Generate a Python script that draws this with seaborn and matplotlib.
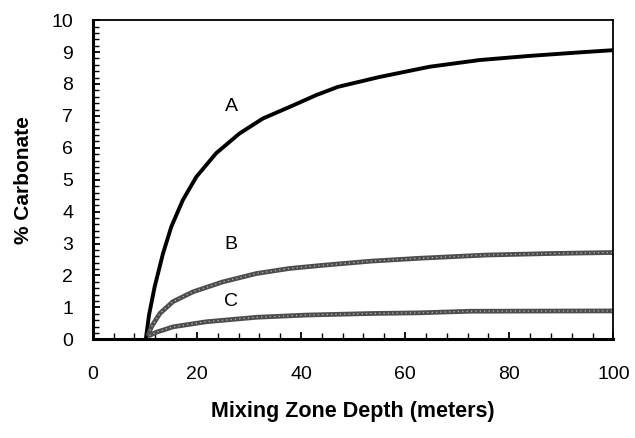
import matplotlib
matplotlib.use("Agg")
import matplotlib.pyplot as plt
from matplotlib.ticker import MultipleLocator
import seaborn as sns
import pandas as pd

# ---- data ----
a_x = [10.2, 10.8, 11.9, 13.5, 15.1, 17.3, 19.9, 23.7, 28.2, 32.7, 37.8, 42.9, 47.1, 55.1, 64.7, 74.3, 83.9, 93.5, 100]
a_y = [0.0, 0.75, 1.65, 2.69, 3.53, 4.36, 5.09, 5.83, 6.45, 6.92, 7.28, 7.65, 7.91, 8.22, 8.54, 8.75, 8.88, 8.99, 9.06]

b_x = [10.7, 11.3, 12.9, 15.4, 19.3, 25.0, 31.4, 37.8, 44.2, 53.5, 62.8, 75.5, 88.4, 100]
b_y = [0.15, 0.40, 0.81, 1.18, 1.49, 1.80, 2.06, 2.22, 2.32, 2.45, 2.54, 2.64, 2.69, 2.72]

c_x = [10.9, 12.2, 15.4, 21.8, 31.4, 41.0, 53.8, 62.8, 72.4, 100]
c_y = [0.12, 0.22, 0.39, 0.55, 0.69, 0.76, 0.81, 0.83, 0.88, 0.89]

labels = ["A", "B", "C"]
label_x = [26.7, 26.6, 26.6]
label_y = [7.28, 2.98, 1.20]

x_ticks = [0, 20, 40, 60, 80, 100]
y_ticks = [0, 1, 2, 3, 4, 5, 6, 7, 8, 9, 10]

sns.set_theme(style="white")
plt.rcParams["font.family"] = ["Liberation Sans", "DejaVu Sans"]
plt.rcParams["lines.solid_joinstyle"] = "round"
plt.rcParams["lines.solid_capstyle"] = "round"
plt.rcParams["text.color"] = "black"
plt.rcParams["axes.labelcolor"] = "black"

fig = plt.figure(figsize=(6.35, 4.38), dpi=100)
ax = fig.add_axes([0.146, 0.2253, 0.820, 0.7287])

dfa = pd.DataFrame({"x": a_x, "y": a_y})
dfb = pd.DataFrame({"x": b_x, "y": b_y})
dfc = pd.DataFrame({"x": c_x, "y": c_y})

sns.lineplot(data=dfa, x="x", y="y", ax=ax, color="black", linewidth=2.8, sort=False)
for d in (dfb, dfc):
    sns.lineplot(data=d, x="x", y="y", ax=ax, color="#4d4d4d", linewidth=3.4, sort=False)
    sns.lineplot(data=d, x="x", y="y", ax=ax, color="white", linewidth=0.9,
                 alpha=0.6, linestyle=(0, (1, 2.5)), sort=False)

for t, tx, ty in zip(labels, label_x, label_y):
    ax.text(tx, ty, t, ha="center", va="center", fontsize=14, color="black")

ax.set_xlim(0, 100)
ax.set_ylim(0, 10)
ax.set_xticks(x_ticks)
ax.set_yticks(y_ticks)
ax.xaxis.set_minor_locator(MultipleLocator(4))
ax.yaxis.set_minor_locator(MultipleLocator(0.2))
ax.tick_params(axis="both", which="both", direction="in", colors="black",
               bottom=True, left=True, top=False, right=False)
ax.tick_params(axis="both", which="major", length=5, width=1.3, labelsize=14)
ax.tick_params(axis="both", which="minor", length=4, width=1.0)
ax.tick_params(axis="x", which="major", pad=19)
ax.tick_params(axis="y", which="major", pad=14)

ax.set_xlabel("Mixing Zone Depth (meters)", fontsize=15.5, fontweight="bold",
              labelpad=13, color="black")
ax.set_ylabel("% Carbonate", fontsize=15, fontweight="bold", labelpad=13, color="black")

for side in ("left", "bottom"):
    ax.spines[side].set_linewidth(2.2)
    ax.spines[side].set_color("black")
for side in ("top", "right"):
    ax.spines[side].set_linewidth(1.3)
    ax.spines[side].set_color("black")

fig.savefig("out.png", dpi=100)
